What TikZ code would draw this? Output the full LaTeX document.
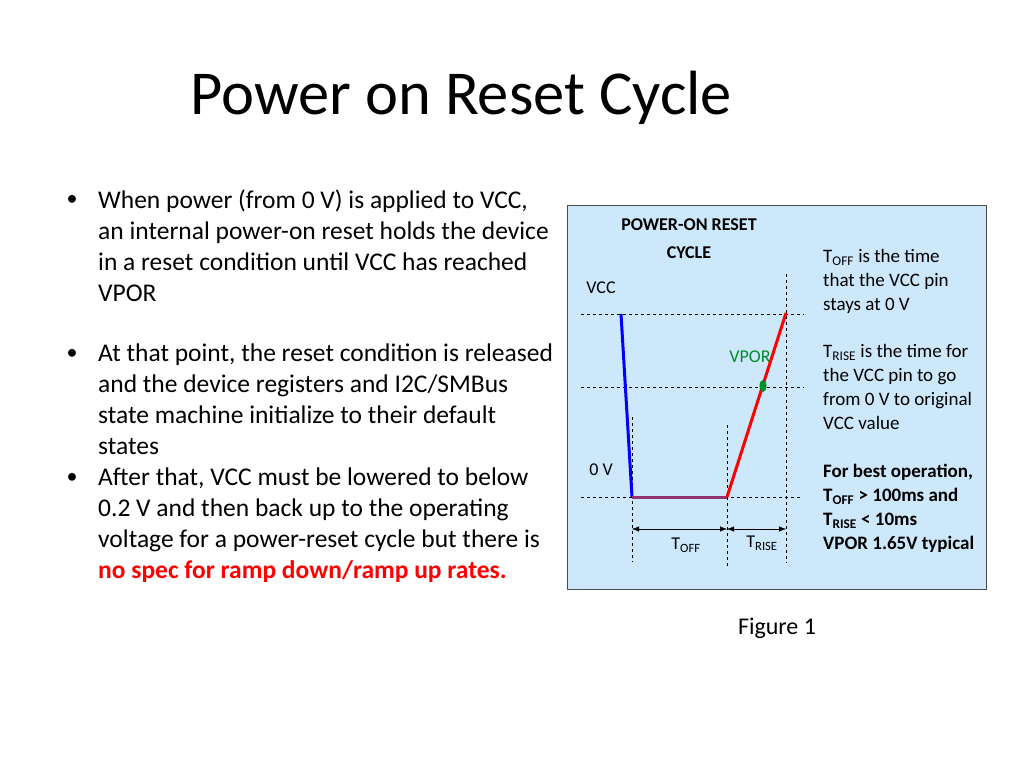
\documentclass[tikz,border=0pt]{standalone}
\usepackage{fontspec}
\setmainfont{Carlito}
\usetikzlibrary{positioning,arrows.meta}
\definecolor{panelblue}{RGB}{204,232,250}
\definecolor{vporgreen}{RGB}{0,140,40}
\definecolor{offpurple}{RGB}{150,50,110}
\tikzset{
  bodytext/.style={anchor=north west,align=left,font=\fontsize{25.5}{31}\selectfont,inner sep=0pt},
  sidetext/.style={anchor=north west,align=left,font=\fontsize{19}{24}\selectfont,inner sep=0pt},
  small/.style={font=\fontsize{18}{18}\selectfont,inner sep=0pt},
  guide/.style={dashed,thin,black},
  span/.style={{Latex[length=7pt]}-{Latex[length=7pt]},thin}
}
\begin{document}
\begin{tikzpicture}[x=1pt,y=-1pt]
    \useasboundingbox (0,0) rectangle (1024,768);
    \node[anchor=west,font=\fontsize{62.5}{70}\selectfont,inner sep=0pt] (title) at (190,98) {Power on Reset Cycle};
    
    % bullets
    \node[bodytext] (b1) at (98,190) {When power (from 0 V) is applied to VCC,\\an internal power-on reset holds the device\\in a reset condition until VCC has reached\\VPOR};
    \node[bodytext] (b2) at (98,344) {At that point, the reset condition is released\\and the device registers and I2C/SMBus\\state machine initialize to their default\\states};
    \node[bodytext] (b3) at (98,468) {After that, VCC must be lowered to below\\0.2 V and then back up to the operating\\voltage for a power-reset cycle but there is\\\textcolor{red}{\textbf{no spec for ramp down/ramp up rates.}}};
    \foreach \y/\n in {200/d1,354/d2,478/d3}
        \node[font=\fontsize{22}{22}\selectfont,inner sep=0pt] (\n) at (72,\y) {\textbullet};
    
    % panel
    \draw[fill=panelblue,draw=black!70] (567,205) rectangle (986,589);
    \node[align=center,font=\fontsize{18}{28}\selectfont\bfseries,inner sep=0pt] (cap) at (689,239) {POWER-ON RESET\\CYCLE};
    \node[small] (vcc) at (601,288) {VCC};
    \node[small] (zero) at (601,470) {0 V};
    \node[small,text=vporgreen] (vpor) at (750,357) {VPOR};
    
    % guides
    \coordinate (h1a) at (581,314); \coordinate (h1b) at (804,314);
    \coordinate (h2a) at (581,387); \coordinate (h2b) at (804,387);
    \coordinate (h3a) at (581,497); \coordinate (h3b) at (802,497);
    \coordinate (v1a) at (632,417); \coordinate (v1b) at (632,562);
    \coordinate (v2a) at (727,425); \coordinate (v2b) at (727,568);
    \coordinate (v3a) at (786,274); \coordinate (v3b) at (786,563);
    \foreach \a/\b in {h1a/h1b,h2a/h2b,h3a/h3b,v1a/v1b,v2a/v2b,v3a/v3b}
        \draw[guide] (\a) -- (\b);
    
    % waveform
    \coordinate (top) at (621,314);
    \coordinate (low) at (632,497);
    \coordinate (up) at (727,497);
    \coordinate (peak) at (786,313);
    \draw[blue,line width=3pt] (top) -- (low);
    \draw[offpurple,line width=3pt] (low) -- (up);
    \draw[red,line width=3pt] (up) -- (peak);
    \fill[vporgreen] (763,386) ellipse (3.5pt and 6pt);
    
    % spans
    \coordinate (s1) at (632,529); \coordinate (s2) at (727,529); \coordinate (s3) at (786,529);
    \draw[span] (s1) -- (s2);
    \draw[span] (s2) -- (s3);
    \node[small] (toff) at (686,545) {T\textsubscript{OFF}};
    \node[small] (trise) at (762,543) {T\textsubscript{RISE}};
    
    % notes
    \node[sidetext] (n1) at (823,249) {T\textsubscript{OFF} is the time\\that the VCC pin\\stays at 0 V};
    \node[sidetext] (n2) at (823,344) {T\textsubscript{RISE} is the time for\\the VCC pin to go\\from 0 V to original\\VCC value};
    \node[sidetext,font=\fontsize{19}{24}\selectfont\bfseries] (n3) at (823,464) {For best operation,\\T\textsubscript{OFF} > 100ms and\\T\textsubscript{RISE} < 10ms\\VPOR 1.65V typical};
    
    \node[font=\fontsize{24}{24}\selectfont,inner sep=0pt] (fig) at (777,628) {Figure 1};
\end{tikzpicture}
\end{document}
